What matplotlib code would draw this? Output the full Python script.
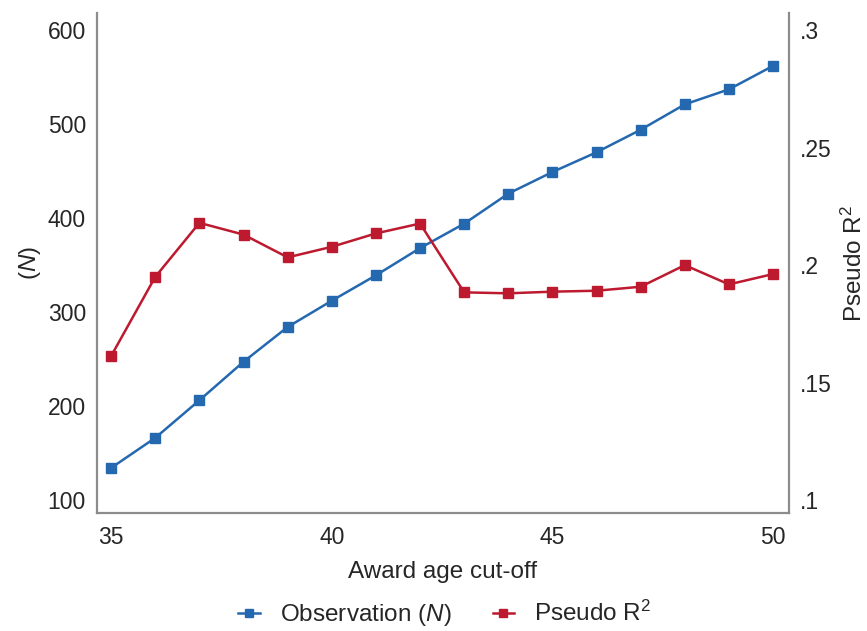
import matplotlib
matplotlib.use("Agg")
import matplotlib.pyplot as plt
from matplotlib.lines import Line2D

plt.rcParams['font.family'] = ['Liberation Sans', 'DejaVu Sans']
plt.rcParams['mathtext.fontset'] = 'custom'
plt.rcParams['mathtext.rm'] = 'Liberation Sans'
plt.rcParams['mathtext.it'] = 'Liberation Sans:italic'

# Data
cutoff = [35, 36, 37, 38, 39, 40, 41, 42, 43, 44, 45, 46, 47, 48, 49, 50]
observations = [134, 166, 206, 247, 284, 312, 339, 368, 394, 426, 449, 470, 494, 521, 537, 562]
pseudo_r2 = [0.1613, 0.195, 0.218, 0.213, 0.2033, 0.2078, 0.2135, 0.2177,
             0.1884, 0.188, 0.1887, 0.1891, 0.1908, 0.200, 0.1918, 0.1962]

left_ticks = [100, 200, 300, 400, 500, 600]
right_ticks = [0.1, 0.15, 0.2, 0.25, 0.3]
right_labels = ['.1', '.15', '.2', '.25', '.3']
x_ticks = [35, 40, 45, 50]

BLUE = '#2468b0'
RED = '#bd1a30'
TEXT = '#262626'
SPINE = '#8c8c8c'

fig = plt.figure(figsize=(8.67, 6.31), dpi=100)
ax = fig.add_axes([0.1119, 0.187, 0.910 - 0.1119, 0.979 - 0.187])
ax2 = ax.twinx()

ax.plot(cutoff, observations, color=BLUE, lw=1.8, marker='s', ms=6.5)
ax2.plot(cutoff, pseudo_r2, color=RED, lw=1.8, marker='s', ms=6.5)

ax.set_xlim(34.68, 50.36)
ax.set_ylim(86, 618)
ax2.set_ylim(0.1 - 13 / 2350, 0.3 + 17 / 2350)

ax.set_xticks(x_ticks)
ax.set_yticks(left_ticks)
ax2.set_yticks(right_ticks)
ax2.set_yticklabels(right_labels)

for a in (ax, ax2):
    a.spines['top'].set_visible(False)
    for s in ('left', 'right', 'bottom'):
        a.spines[s].set_color(SPINE)
        a.spines[s].set_linewidth(1.6)
    a.tick_params(length=0, labelsize=16.5, labelcolor=TEXT, pad=8)
ax.spines['right'].set_visible(False)
ax2.spines['left'].set_visible(False)
ax2.spines['bottom'].set_visible(False)
ax.tick_params(axis='x', pad=9)

ax.set_xlabel('Award age cut-off', fontsize=17.5, color=TEXT, labelpad=9)
ax.set_ylabel('($\\it{N}$)', fontsize=17.5, color=TEXT, labelpad=3)
ax2.set_ylabel('Pseudo R$^2$', fontsize=17.5, color=TEXT, labelpad=7)

handles = [
    Line2D([], [], color=BLUE, lw=1.8, marker='s', ms=5.5),
    Line2D([], [], color=RED, lw=1.8, marker='s', ms=5.5),
]
fig.legend(handles, ['Observation ($\\it{N}$)', 'Pseudo R$^2$'],
           loc='center', bbox_to_anchor=(0.513, 0.026), ncol=2, frameon=False,
           fontsize=17.5, handlelength=0.9, columnspacing=1.7, handletextpad=0.8,
           labelcolor=TEXT, borderpad=0)

fig.savefig('out.png', dpi=100, facecolor='white')
